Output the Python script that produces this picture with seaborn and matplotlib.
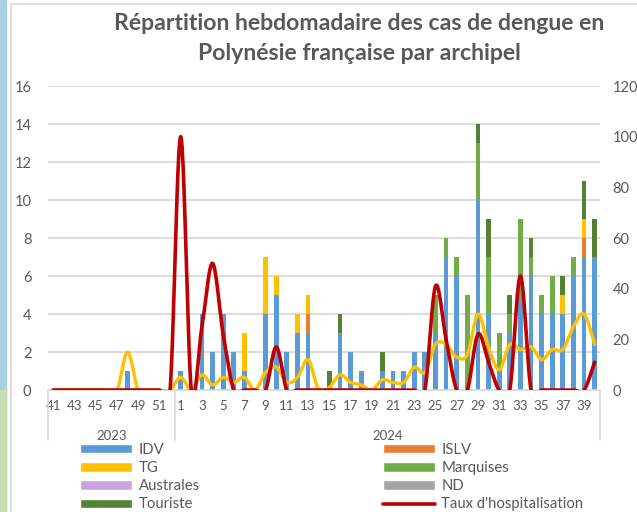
import numpy as np
import seaborn as sns
import matplotlib.pyplot as plt
import matplotlib.transforms as mtransforms
from matplotlib.patches import Patch, Rectangle
from matplotlib.lines import Line2D

# weeks (2023: 41-52, 2024: 1-40)
weeks_2023 = [41, 42, 43, 44, 45, 46, 47, 48, 49, 50, 51, 52]
weeks_2024 = list(range(1, 41))

# weekly cases by archipelago (stack order bottom -> top)
idv = [0, 0, 0, 0, 0, 0, 0, 1, 0, 0, 0, 0,
       1, 0, 4, 2, 4, 2, 1, 0, 4, 5, 2, 3, 3, 0, 0, 3, 2, 1, 0, 1,
       1, 1, 2, 2, 3, 7, 6, 0, 10, 4, 1, 3, 5, 6, 4, 4, 4, 6, 7, 7]
islv = [0] * 12 + [0, 0, 0, 0, 0, 0, 0, 0, 0, 0, 0, 0, 1, 0, 0, 0, 0, 0, 0, 0,
                   0, 0, 0, 0, 0, 0, 0, 0, 0, 0, 0, 0, 0, 0, 0, 0, 0, 0, 1, 0]
tg = [0] * 12 + [0, 0, 0, 0, 0, 0, 2, 0, 3, 1, 0, 1, 1, 0, 0, 0, 0, 0, 0, 0,
                 0, 0, 0, 0, 0, 0, 0, 0, 0, 0, 0, 0, 0, 0, 0, 0, 1, 0, 1, 0]
marquises = [0] * 12 + [0, 0, 0, 0, 0, 0, 0, 0, 0, 0, 0, 0, 0, 0, 0, 0, 0, 0, 0, 0,
                        0, 0, 0, 0, 2, 1, 1, 5, 3, 3, 2, 1, 4, 1, 1, 2, 0, 1, 0, 0]
australes = [0] * 52
nd = [0] * 52
touriste = [0] * 12 + [0, 0, 0, 0, 0, 0, 0, 0, 0, 0, 0, 0, 0, 0, 1, 1, 0, 0, 0, 1,
                       0, 0, 0, 0, 0, 0, 0, 0, 1, 2, 0, 1, 0, 1, 0, 0, 1, 0, 2, 2]

# right axis series
hospit = [0] * 12 + [100, 0, 25, 50, 22, 0, 0, 0, 0, 17, 0, 0, 0, 0, 0, 0, 0, 0, 0, 0,
                     0, 0, 0, 0, 41, 20, 0, 0, 22, 11, 0, 0, 45, 0, 0, 0, 0, 0, 0, 11]
yellow_line = [0, 0, 0, 0, 0, 0, 0, 15, 0, 0, 0, 0,
               5, 0, 6, 2, 5, 3, 5, 0, 7, 9, 3, 5, 12, 0, 1, 6, 3, 2, 0, 4,
               3, 3, 9, 7, 18, 18, 13, 14, 30, 17, 8, 18, 16, 17, 12, 16, 16, 25, 30, 18]

series = [("IDV", idv, "#5B9BD5"), ("ISLV", islv, "#ED7D31"), ("TG", tg, "#FFC000"),
          ("Marquises", marquises, "#70AD47"), ("Australes", australes, "#C9A3E0"),
          ("ND", nd, "#A5A5A5"), ("Touriste", touriste, "#548235")]

GREY = "#595959"


def smooth(xs, ys, n=24):
    # Excel-like smoothed line (Catmull-Rom as cubic Bezier)
    pts = np.column_stack([xs, ys]).astype(float)
    pad = np.vstack([pts[0], pts, pts[-1]])
    t = np.linspace(0, 1, n)[:, None]
    segs = []
    for i in range(len(pts) - 1):
        p0, p1, p2, p3 = pad[i], pad[i + 1], pad[i + 2], pad[i + 3]
        c1 = p1 + (p2 - p0) / 6
        c2 = p2 - (p3 - p1) / 6
        segs.append((1 - t) ** 3 * p1 + 3 * (1 - t) ** 2 * t * c1 + 3 * (1 - t) * t ** 2 * c2 + t ** 3 * p2)
    out = np.vstack(segs)
    return out[:, 0], out[:, 1]


sns.set_style("white")
plt.rcParams["font.family"] = ["Lato", "DejaVu Sans"]

fig = plt.figure(figsize=(6.37, 5.12), dpi=100)

# screenshot surroundings
fig.patches.append(Rectangle((0, 0), 6 / 637, 1, transform=fig.transFigure, color="#A9D0E0", zorder=0))
fig.patches.append(Rectangle((0, 0), 6 / 637, 122 / 512, transform=fig.transFigure, color="#C7DDB3", zorder=0))
fig.patches.append(Rectangle((11 / 637, -0.1), 1.0, 1.1 - 4 / 512, transform=fig.transFigure,
                             fill=False, edgecolor="#D9D9D9", lw=1.2, zorder=0))

ax = fig.add_axes([48 / 637, 122 / 512, 552 / 637, 304 / 512])

keys = [f"2023-{w}" for w in weeks_2023] + [f"2024-{w}" for w in weeks_2024]
labels = [str(w) for w in weeks_2023] + [str(w) for w in weeks_2024]

# stacked bars: draw cumulative totals from top layer down
cum = np.cumsum(np.array([s[1] for s in series]), axis=0)
for i in reversed(range(len(series))):
    sns.barplot(x=keys, y=cum[i], order=keys, color=series[i][2], saturation=1,
                width=0.45, linewidth=0, ax=ax, zorder=2)

ax.set_xlim(-0.5, 51.5)
ax.set_ylim(0, 16)
ax.set_yticks(range(0, 17, 2))
ax.yaxis.grid(True, color="#D9D9D9", lw=1.3)
ax.set_axisbelow(True)
ax.set_xlabel("")
ax.set_ylabel("")
ax.set_xticks([i for i, w in enumerate(labels) if int(w) % 2 == 1])
ax.set_xticklabels([w for w in labels if int(w) % 2 == 1])
ax.tick_params(axis="x", length=0, pad=7, labelsize=9.5, labelcolor=GREY)
ax.tick_params(axis="y", length=0, pad=12, labelsize=10.5, labelcolor=GREY)
for side in ["left", "right", "top"]:
    ax.spines[side].set_visible(False)
ax.spines["bottom"].set_color("#D9D9D9")
ax.spines["bottom"].set_linewidth(1.2)

# year group labels and separators
trans = mtransforms.blended_transform_factory(ax.transData, ax.transAxes)
for xsep in [-0.5, 11.5, 51.5]:
    ax.plot([xsep, xsep], [0, -0.165], transform=trans, clip_on=False, color="#D9D9D9", lw=1.2)
ax.text(5.5, -0.152, "2023", transform=trans, ha="center", va="center", fontsize=9.5, color=GREY)
ax.text(31.5, -0.152, "2024", transform=trans, ha="center", va="center", fontsize=9.5, color=GREY)

# right axis lines
ax2 = ax.twinx()
xs = np.arange(len(keys))
sx, sy = smooth(xs, yellow_line)
sns.lineplot(x=sx, y=sy, sort=False, estimator=None, color="#FFC000", lw=2.4, ax=ax2)
hx, hy = smooth(xs, hospit)
sns.lineplot(x=hx, y=hy, sort=False, estimator=None, color="#C00000", lw=2.6, ax=ax2)
ax2.set_ylim(0, 120)
ax2.set_xlim(-0.5, 51.5)
ax2.set_yticks(range(0, 121, 20))
ax2.tick_params(axis="y", length=0, pad=9, labelsize=10.5, labelcolor=GREY)
for side in ["left", "right", "top", "bottom"]:
    ax2.spines[side].set_visible(False)

fig.text(359 / 637, 1 - 23 / 512, "Répartition hebdomadaire des cas de dengue en",
         ha="center", va="center", fontsize=16.6, fontweight="bold", color=GREY)
fig.text(359 / 637, 1 - 53 / 512, "Polynésie française par archipel",
         ha="center", va="center", fontsize=16.6, fontweight="bold", color=GREY)

handles = []
for name, _, col in [series[0], series[2], series[4], series[6], series[1], series[3], series[5]]:
    handles.append(Patch(facecolor=col, label=name))
handles.append(Line2D([], [], color="#C00000", lw=2.6, label="Taux d'hospitalisation"))
fig.legend(handles=handles, loc="upper left", bbox_to_anchor=(80 / 637, 1 - 443 / 512),
           ncol=2, frameon=False, fontsize=10.7, labelcolor=GREY, handlelength=3.5,
           handleheight=0.6, handletextpad=0.45, columnspacing=12.3, labelspacing=0.28,
           borderaxespad=0, borderpad=0)

fig.savefig("out.png", dpi=100)
